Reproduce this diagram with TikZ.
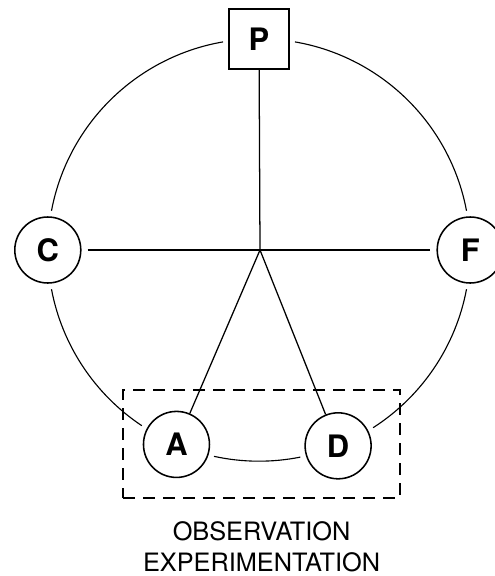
\documentclass[tikz,border=0pt]{standalone}
\usepackage{fontspec}
\setmainfont{TeX Gyre Heros}
\usetikzlibrary{positioning}

\begin{document}
\begin{tikzpicture}[
    stage/.style={circle, draw, line width=1.1pt, fill=white, minimum size=1.65cm, inner sep=0pt, font=\fontsize{22}{24}\selectfont\bfseries},
    head/.style={rectangle, draw, line width=1.2pt, fill=white, minimum size=1.5cm, inner sep=0pt, font=\fontsize{22}{24}\selectfont\bfseries},
    rim/.style={line width=0.8pt},
    spoke/.style={line width=0.9pt}
  ]
    \useasboundingbox (0,0) rectangle (12.35,-14.4);
    \def\R{5.28}
    \coordinate (O) at (6.475, -6.25);

    % the five stages, sitting on the ring
    \node[head]  (P) at ([shift={(90:\R)}]O) {P};
    \node[stage] (C) at ([shift={(180:\R)}]O) {C};
    \node[stage] (F) at ([shift={(0:\R)}]O) {F};
    \node[stage] (A) at ([shift={(247:\R)}]O) {A};
    \node[stage] (D) at ([shift={(292:\R)}]O) {D};
    \coordinate (hub) at (6.5, -6.25);

    % outer ring, broken at each stage
    \draw[rim] ([shift={(99.8:\R)}]O) arc[start angle=99.8, end angle=169.3, radius=\R];
    \draw[rim] ([shift={(190.7:\R)}]O) arc[start angle=190.7, end angle=236.3, radius=\R];
    \draw[rim] ([shift={(257.7:\R)}]O) arc[start angle=257.7, end angle=281.3, radius=\R];
    \draw[rim] ([shift={(302.7:\R)}]O) arc[start angle=302.7, end angle=349.3, radius=\R];
    \draw[rim] ([shift={(10.7:\R)}]O) arc[start angle=10.7, end angle=80.2, radius=\R];

    % spokes
    \draw[spoke] (P) -- (hub);
    \draw[line width=1.4pt, shorten <=0.15cm, shorten >=0.15cm] (C) -- (F);
    \draw[spoke] (hub) -- (A);
    \draw[spoke] (hub) -- (D);

    % observation box
    \node[draw, dash pattern=on 0.3cm off 0.2cm, line width=0.9pt, minimum width=6.925cm, minimum height=2.7cm] (obs) at (6.54, -11.1) {};
    \node[below=0.45cm of obs, align=center, font=\fontsize{18}{22}\selectfont] (label) {OBSERVATION\\EXPERIMENTATION};
\end{tikzpicture}
\end{document}
